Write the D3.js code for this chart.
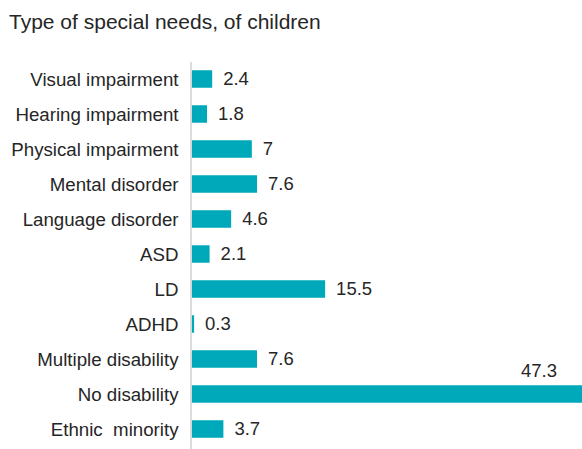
<!DOCTYPE html>
<html>
<head>
<meta charset="utf-8">
<script src="https://cdn.jsdelivr.net/npm/d3@7"></script>
<style>
  html, body { margin: 0; padding: 0; background: #fff; }
  svg { display: block; font-family: "Liberation Sans", Arial, sans-serif; }
  text { white-space: pre; }
</style>
</head>
<body>
<svg id="chart" width="582" height="449"></svg>
<script>
const title = "Type of special needs, of children";
const categories = ["Visual impairment", "Hearing impairment", "Physical impairment", "Mental disorder",
  "Language disorder", "ASD", "LD", "ADHD", "Multiple disability", "No disability", "Ethnic  minority"];
const values = [2.4, 1.8, 7, 7.6, 4.6, 2.1, 15.5, 0.3, 7.6, 47.3, 3.7];
const valueLabels = ["2.4", "1.8", "7", "7.6", "4.6", "2.1", "15.5", "0.3", "7.6", "47.3", "3.7"];

const W = 582, H = 449;
const svg = d3.select("#chart");
const x0 = 191.5;
const x = d3.scaleLinear().domain([0, 47.3]).range([x0, x0 + 47.3 * 8.62]);
const y = d3.scaleBand().domain(categories).range([61.5, 446.5]).paddingInner(0.5).paddingOuter(0.25);

const barColor = "#00A9B9";
const textColor = "#262626";

svg.append("text")
  .attr("x", 9).attr("y", 28.5)
  .attr("font-size", 21).attr("fill", textColor)
  .text(title);

// bars
svg.append("g").selectAll("rect")
  .data(values)
  .join("rect")
  .attr("x", x(0))
  .attr("y", (d, i) => y(categories[i]))
  .attr("width", d => x(d) - x(0))
  .attr("height", y.bandwidth())
  .attr("fill", barColor);

// axis line
const yAxis = d3.axisLeft(y).tickSize(0).tickPadding(12.5);
const ag = svg.append("g").attr("transform", `translate(${x0 - 0.5},0)`).call(yAxis);
ag.select(".domain").attr("stroke", "#d9d9d9").attr("stroke-width", 1.8)
  .attr("d", `M0,62V${H}`);
ag.selectAll(".tick text")
  .attr("font-size", 18.7).attr("fill", textColor)
  .attr("font-family", "Liberation Sans, Arial, sans-serif")
  .attr("dy", "0.35em");

// value labels
svg.append("g").selectAll("text")
  .data(values)
  .join("text")
  .attr("font-size", 18.5).attr("fill", textColor)
  .attr("x", (d, i) => x(d) > W - 40 ? 557 : x(d) + 11)
  .attr("y", (d, i) => x(d) > W - 40 ? y(categories[i]) - 8 : y(categories[i]) + y.bandwidth() / 2)
  .attr("dy", (d) => x(d) > W - 40 ? "0" : "0.35em")
  .attr("text-anchor", d => x(d) > W - 40 ? "end" : "start")
  .text((d, i) => valueLabels[i]);
</script>
</body>
</html>
